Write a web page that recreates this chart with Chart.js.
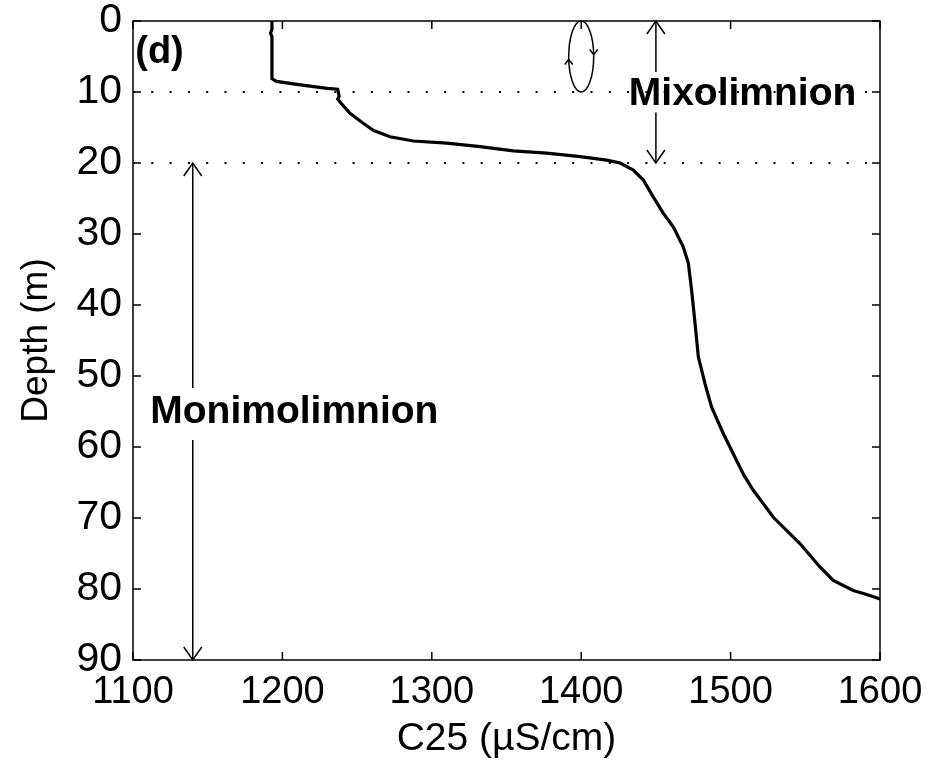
<!DOCTYPE html>
<html>
<head>
<meta charset="utf-8">
<script src="https://cdn.jsdelivr.net/npm/chart.js@4.4.1/dist/chart.umd.min.js"></script>
<style>
  html, body { margin: 0; padding: 0; background: #fff; }
</style>
</head>
<body>
<canvas id="myChart" width="933" height="765"></canvas>
<script>
// profile: conductivity vs depth
const c25 = [1193, 1193, 1192, 1193, 1193, 1196, 1212, 1230, 1237, 1238, 1237, 1238.6,
  1245.2, 1254.1, 1260.8, 1272, 1287.6, 1310, 1332.3, 1354.6, 1376.9, 1399.2, 1417.1,
  1426, 1434.9, 1441.6, 1448.3, 1455, 1461.6, 1468.3, 1471.7, 1473.9, 1476.2, 1478.4,
  1482.9, 1487.3, 1495.1, 1504, 1509, 1515.2, 1528.6, 1546.4, 1559.8, 1568.7, 1582.1,
  1590, 1600];
const depth = [0, 1.2, 1.7, 2.2, 8.1, 8.5, 9.0, 9.5, 9.6, 10.6, 11.0, 11.4,
  13.0, 14.4, 15.4, 16.3, 16.9, 17.2, 17.7, 18.3, 18.6, 19.1, 19.6,
  20.0, 21.0, 22.4, 24.8, 27.1, 29.0, 31.8, 34.1, 37.9, 42.6, 47.3,
  51.1, 54.4, 58.1, 61.9, 64.0, 66.1, 69.9, 73.6, 76.9, 78.8, 80.2,
  80.7, 81.4];

const refDepths = [10, 20];
const xTicks = [1100, 1200, 1300, 1400, 1500, 1600];
const yTicks = [0, 10, 20, 30, 40, 50, 60, 70, 80, 90];

const FONT = "'Liberation Sans', Arial, sans-serif";

let profile = c25.map((v, i) => ({ x: v, y: depth[i] }));

let refSets = refDepths.map(d => ({
  data: [{ x: xTicks[0], y: d }, { x: xTicks[xTicks.length - 1], y: d }],
  borderColor: "#000",
  borderWidth: 2,
  borderDash: [2, 16.3],
  pointRadius: 0,
  showLine: true,
}));

function arrowHead(ctx, x, y, dir, len, half) {
  ctx.beginPath();
  ctx.moveTo(x - half, y - dir * len);
  ctx.lineTo(x, y);
  ctx.lineTo(x + half, y - dir * len);
  ctx.stroke();
}

// vertical double arrow with a gap where the label sits
function vArrow(ctx, xs, ys, x, d1, d2, gap) {
  const px = xs.getPixelForValue(x);
  const y1 = ys.getPixelForValue(d1), y2 = ys.getPixelForValue(d2);
  ctx.beginPath();
  if (gap) {
    const g1 = ys.getPixelForValue(gap[0]), g2 = ys.getPixelForValue(gap[1]);
    ctx.moveTo(px, y1); ctx.lineTo(px, g1);
    ctx.moveTo(px, g2); ctx.lineTo(px, y2);
  } else {
    ctx.moveTo(px, y1); ctx.lineTo(px, y2);
  }
  ctx.stroke();
  arrowHead(ctx, px, y1, -1, 13, 9);
  arrowHead(ctx, px, y2, 1, 13, 9);
}

const framePlugin = {
  id: "frame",
  afterDraw(chart) {
    const { ctx, chartArea: a, scales } = chart;
    const xs = scales.x, ys = scales.y;
    ctx.save();
    ctx.strokeStyle = "#000";
    ctx.fillStyle = "#000";
    ctx.lineWidth = 1.5;
    ctx.strokeRect(a.left, a.top, a.right - a.left, a.bottom - a.top);

    // inward ticks on all four sides
    ctx.beginPath();
    xTicks.forEach(v => {
      const p = xs.getPixelForValue(v);
      ctx.moveTo(p, a.bottom); ctx.lineTo(p, a.bottom - 8);
      ctx.moveTo(p, a.top); ctx.lineTo(p, a.top + 8);
    });
    yTicks.forEach(v => {
      const p = ys.getPixelForValue(v);
      ctx.moveTo(a.left, p); ctx.lineTo(a.left + 8, p);
      ctx.moveTo(a.right, p); ctx.lineTo(a.right - 8, p);
    });
    ctx.stroke();

    // arrows
    ctx.lineWidth = 1.5;
    vArrow(ctx, xs, ys, 1450, 0, 20, [7.2, 12.9]);
    vArrow(ctx, xs, ys, 1140, 20, 90, [51.7, 59]);

    // mixing ellipse
    const ex = xs.getPixelForValue(1400);
    const ey = ys.getPixelForValue(5);
    const ry = ys.getPixelForValue(10) - ys.getPixelForValue(0);
    ctx.beginPath();
    ctx.ellipse(ex, ey, 12.5, ry / 2, 0, 0, Math.PI * 2);
    ctx.stroke();
    arrowHead(ctx, ex - 12.5, ey + 3, -1, 5, 4);
    arrowHead(ctx, ex + 12.5, ey - 2, 1, 5, 4);

    // labels
    ctx.font = "bold 39px " + FONT;
    ctx.textBaseline = "middle";
    ctx.textAlign = "center";
    ctx.fillText("Mixolimnion", xs.getPixelForValue(1508), ys.getPixelForValue(10.3));
    ctx.fillText("Monimolimnion", xs.getPixelForValue(1208), ys.getPixelForValue(55.1));
    ctx.font = "bold 38px " + FONT;
    ctx.textAlign = "left";
    ctx.fillText("(d)", xs.getPixelForValue(1101.5), ys.getPixelForValue(4.4));
    ctx.restore();
  },
};

let ctx = document.getElementById("myChart");

let chart = new Chart(ctx, {
  type: "scatter",
  data: {
    datasets: [
      {
        data: profile,
        showLine: true,
        borderColor: "#000",
        borderWidth: 3.2,
        pointRadius: 0,
        tension: 0,
      },
      ...refSets,
    ],
  },
  options: {
    responsive: false,
    animation: false,
    events: [],
    layout: { padding: { top: 21, right: 53, left: 0, bottom: 0 } },
    plugins: { legend: { display: false }, tooltip: { enabled: false } },
    scales: {
      x: {
        type: "linear",
        min: 1100,
        max: 1600,
        grid: { display: false, drawTicks: false, tickLength: 0 },
        border: { display: false },
        afterBuildTicks: s => { s.ticks = xTicks.map(v => ({ value: v })); },
        afterFit: s => { s.height = 105; s.paddingLeft = 0; s.paddingRight = 0; },
        ticks: {
          color: "#000",
          padding: 14,
          maxRotation: 0,
          callback: v => String(v),
          font: { family: FONT, size: 38, lineHeight: 1 },
        },
        title: {
          display: true,
          text: "C25 (µS/cm)",
          color: "#000",
          padding: { top: 0, bottom: 2 },
          font: { family: FONT, size: 39, lineHeight: 1.2 },
        },
      },
      y: {
        type: "linear",
        reverse: true,
        min: 0,
        max: 90,
        grid: { display: false, drawTicks: false, tickLength: 0 },
        border: { display: false },
        afterBuildTicks: s => { s.ticks = yTicks.map(v => ({ value: v })); },
        afterFit: s => { s.width = 133; s.paddingTop = 0; s.paddingBottom = 0; },
        ticks: {
          color: "#000",
          padding: 11,
          callback: v => String(v),
          font: { family: FONT, size: 41, lineHeight: 1 },
        },
        title: {
          display: true,
          text: "Depth (m)",
          color: "#000",
          padding: { top: 15, bottom: 0 },
          font: { family: FONT, size: 37, lineHeight: 1.2 },
        },
      },
    },
  },
  plugins: [framePlugin],
});
</script>
</body>
</html>
